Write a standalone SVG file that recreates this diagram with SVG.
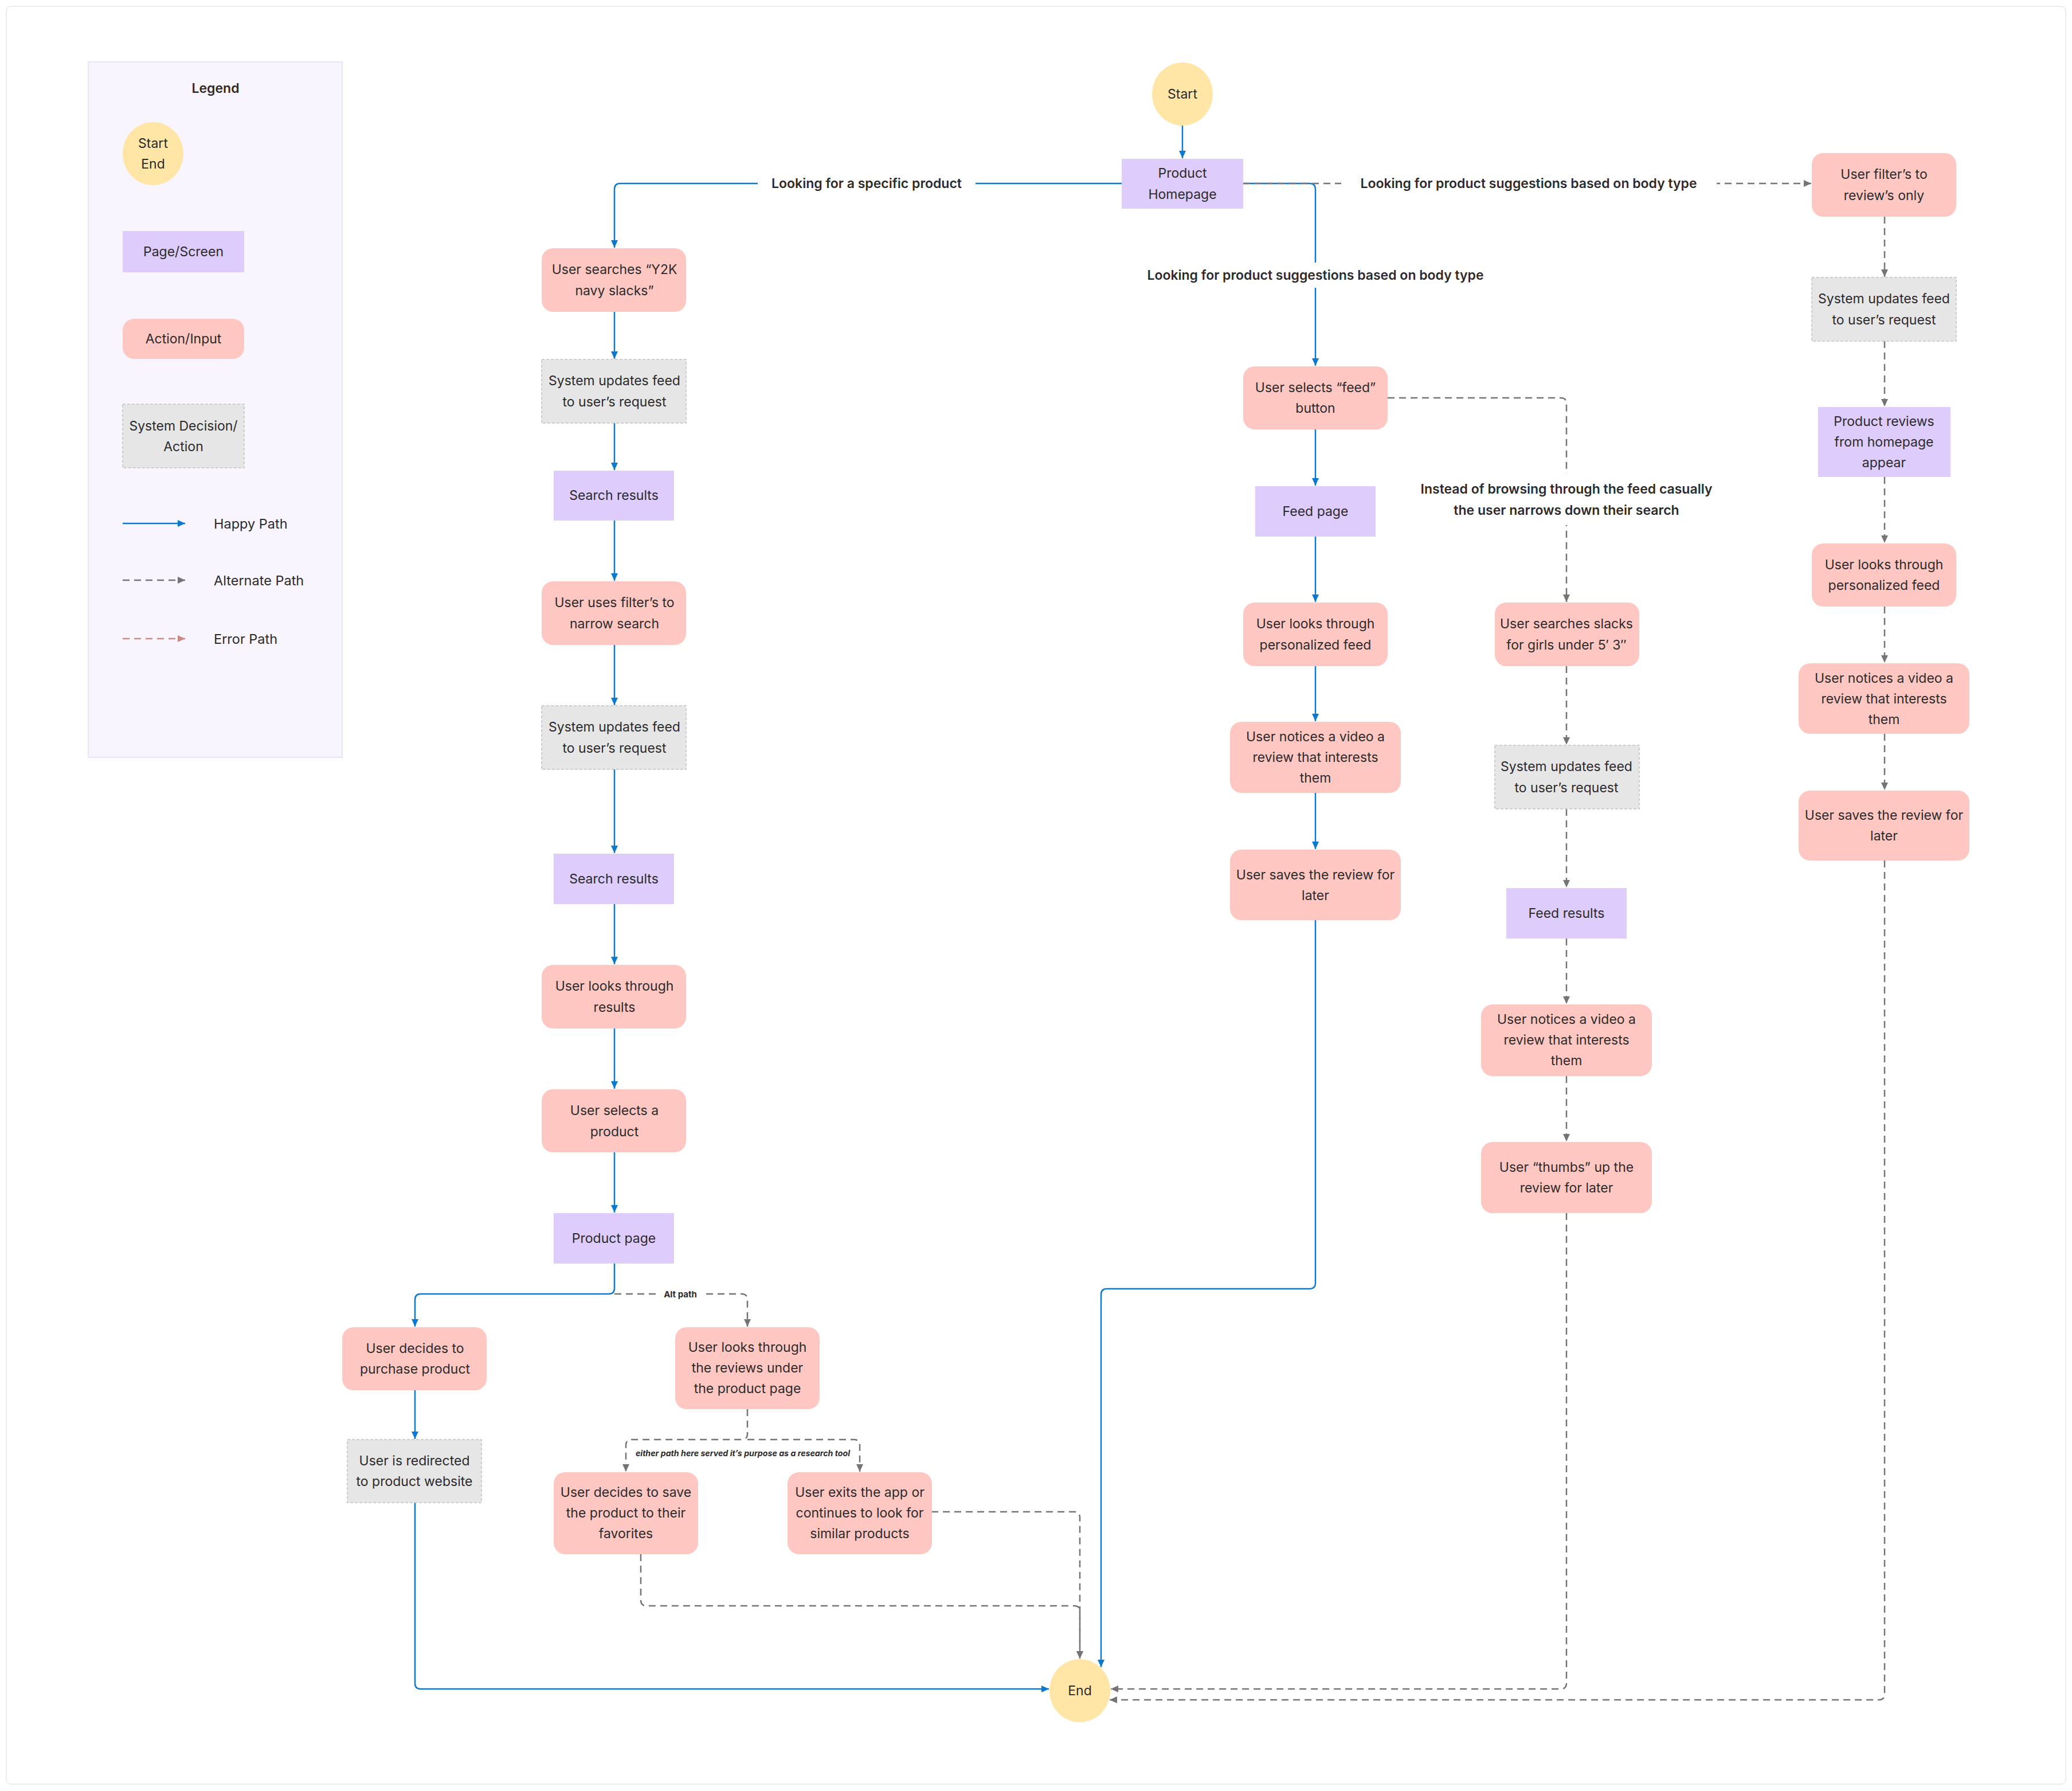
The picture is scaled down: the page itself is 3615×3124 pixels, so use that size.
<svg xmlns="http://www.w3.org/2000/svg" width="3615" height="3124" viewBox="0 0 3615 3124">
<defs>
<style>
.act{fill:#FFC7C2;}
.sys{fill:#E6E6E6;stroke:#C2C2C2;stroke-width:1.5;stroke-dasharray:5 3;}
.page{fill:#DDCCFC;}
.term{fill:#FFE6A6;}
.t{font-family:Inter,"Liberation Sans",sans-serif;font-size:23px;fill:#2C2A2B;text-anchor:middle;dominant-baseline:central;}
.lb{font-family:Inter,"Liberation Sans",sans-serif;font-size:23px;font-weight:600;fill:#2C2A2B;text-anchor:middle;dominant-baseline:central;}
.ll{font-family:Inter,"Liberation Sans",sans-serif;font-size:23.5px;fill:#2C2A2B;dominant-baseline:central;}
.happy{stroke:#0B79D0;stroke-width:2.5;fill:none;marker-end:url(#ab);}
.alt{stroke:#767374;stroke-width:2.5;stroke-dasharray:12 8;fill:none;marker-end:url(#ag);}
.err{stroke:#C98A80;stroke-width:2.5;stroke-dasharray:12 8;fill:none;marker-end:url(#ar);}
.bg{fill:#FFFFFF;}
</style>
<marker id="ab" markerUnits="userSpaceOnUse" markerWidth="14" markerHeight="14" refX="13" refY="7" orient="auto"><path d="M0,1 L13,7 L0,13 z" fill="#0B79D0"/></marker>
<marker id="ag" markerUnits="userSpaceOnUse" markerWidth="14" markerHeight="14" refX="13" refY="7" orient="auto"><path d="M0,1 L13,7 L0,13 z" fill="#767374"/></marker>
<marker id="ar" markerUnits="userSpaceOnUse" markerWidth="14" markerHeight="14" refX="13" refY="7" orient="auto"><path d="M0,1 L13,7 L0,13 z" fill="#C98A80"/></marker>
</defs>
<rect x="0" y="0" width="3615" height="3124" fill="#FFFFFF"/>
<rect x="11" y="11" width="3593" height="3101" rx="8" fill="#FFFFFF" stroke="#EDEDED" stroke-width="2"/>

<g id="legend">
<rect x="154" y="108" width="443" height="1213" fill="#F8F5FE" stroke="#E9E3FB" stroke-width="2"/>
<text class="lb" x="376" y="154">Legend</text>
<ellipse class="term" cx="267" cy="268" rx="53" ry="55"/>
<text class="t" x="267" y="250">Start</text>
<text class="t" x="267" y="286">End</text>
<rect class="page" x="214" y="403" width="212" height="72"/>
<text class="t" x="320" y="439">Page/Screen</text>
<rect class="act" x="214" y="556" width="212" height="70" rx="20"/>
<text class="t" x="320" y="591">Action/Input</text>
<rect class="sys" x="214" y="705" width="212" height="111"/>
<text class="t" x="320" y="743">System Decision/</text>
<text class="t" x="320" y="779">Action</text>
<line class="happy" x1="214" y1="913" x2="323" y2="913"/>
<text class="ll" x="373" y="913">Happy Path</text>
<line class="alt" x1="214" y1="1012" x2="323" y2="1012"/>
<text class="ll" x="373" y="1012">Alternate Path</text>
<line class="err" x1="214" y1="1114" x2="323" y2="1114"/>
<text class="ll" x="373" y="1114">Error Path</text>
</g>

<g id="connectors">
<path class="happy" d="M2063,219 V276"/>
<path class="happy" d="M1957,320 H1082 Q1072,320 1072,330 V432"/>
<path class="happy" d="M2169,320 H2285 Q2295,320 2295,330 V638"/>
<path class="alt" d="M2169,320 H3160"/>
<path class="happy" d="M1072,544 V626"/>
<path class="happy" d="M1072,738 V820"/>
<path class="happy" d="M1072,908 V1013"/>
<path class="happy" d="M1072,1125 V1230"/>
<path class="happy" d="M1072,1342 V1488"/>
<path class="happy" d="M1072,1577 V1682"/>
<path class="happy" d="M1072,1794 V1899"/>
<path class="happy" d="M1072,2010 V2115"/>
<path class="happy" d="M1072,2204 V2247 Q1072,2257 1062,2257 H734 Q724,2257 724,2267 V2314"/>
<path class="alt" d="M1072,2257 H1294 Q1304,2257 1304,2267 V2314"/>
<path class="happy" d="M724,2425 V2510"/>
<path class="happy" d="M724,2621 V2936 Q724,2946 734,2946 H1830"/>
<path class="alt" d="M1304,2458 V2501 Q1304,2511 1294,2511 H1102 Q1092,2511 1092,2521 V2567"/>
<path class="alt" d="M1304,2511 H1490 Q1500,2511 1500,2521 V2567"/>
<path class="alt" d="M1118,2711 V2791 Q1118,2801 1128,2801 H1874 Q1884,2801 1884,2811 V2893"/>
<path class="alt" d="M1625,2637 H1874 Q1884,2637 1884,2647 V2893"/>
<path class="happy" d="M2295,749 V847"/>
<path class="happy" d="M2295,936 V1050"/>
<path class="happy" d="M2295,1162 V1258"/>
<path class="happy" d="M2295,1383 V1481"/>
<path class="happy" d="M2295,1605 V2238 Q2295,2248 2285,2248 H1931 Q1921,2248 1921,2258 V2908"/>
<path class="alt" d="M2421,694 H2723 Q2733,694 2733,704 V1050"/>
<path class="alt" d="M2733,1162 V1299"/>
<path class="alt" d="M2733,1411 V1548"/>
<path class="alt" d="M2733,1637 V1751"/>
<path class="alt" d="M2733,1877 V1991"/>
<path class="alt" d="M2733,2116 V2936 Q2733,2946 2723,2946 H1938"/>
<path class="alt" d="M3288,378 V483"/>
<path class="alt" d="M3288,595 V709"/>
<path class="alt" d="M3288,832 V947"/>
<path class="alt" d="M3288,1058 V1156"/>
<path class="alt" d="M3288,1280 V1378"/>
<path class="alt" d="M3288,1501 V2955 Q3288,2965 3278,2965 H1936"/>
<rect class="bg" x="1322" y="302" width="380" height="36"/>
<text class="lb" x="1512" y="320">Looking for a specific product</text>
<rect class="bg" x="2340" y="302" width="655" height="36"/>
<text class="lb" x="2667" y="320">Looking for product suggestions based on body type</text>
<rect class="bg" x="1970" y="458" width="650" height="44"/>
<text class="lb" x="2295" y="480">Looking for product suggestions based on body type</text>
<rect class="bg" x="2455" y="826" width="556" height="90"/>
<text class="lb" x="2733" y="853">Instead of browsing through the feed casually</text>
<text class="lb" x="2733" y="890">the user narrows down their search</text>
<rect class="bg" x="1144" y="2244" width="86" height="26"/>
<text class="lb" x="1187" y="2257" style="font-size:15px;font-weight:700">Alt path</text>
<text class="lb" x="1296" y="2534" style="font-size:14.2px;font-weight:700;font-style:italic">either path here served it’s purpose as a research tool</text>
</g>

<g id="start"><ellipse class="term" cx="2063" cy="164" rx="53" ry="55"/><text class="t" x="2063" y="164">Start</text></g>
<g id="product-homepage"><rect class="page" x="1957" y="277" width="212" height="87"/><text class="t" x="2063" y="302">Product</text><text class="t" x="2063" y="339">Homepage</text></g>

<g id="search-y2k"><rect class="act" x="945" y="433" width="252" height="111" rx="20"/><text class="t" x="1072" y="470">User searches “Y2K</text><text class="t" x="1072" y="507">navy slacks”</text></g>
<g id="sys-1"><rect class="sys" x="945" y="627" width="252" height="111"/><text class="t" x="1072" y="664">System updates feed</text><text class="t" x="1072" y="701">to user’s request</text></g>
<g id="search-results-1"><rect class="page" x="966" y="821" width="210" height="87"/><text class="t" x="1071" y="864">Search results</text></g>
<g id="filters"><rect class="act" x="945" y="1014" width="252" height="111" rx="20"/><text class="t" x="1072" y="1051">User uses filter’s to</text><text class="t" x="1072" y="1088">narrow search</text></g>
<g id="sys-2"><rect class="sys" x="945" y="1231" width="252" height="111"/><text class="t" x="1072" y="1268">System updates feed</text><text class="t" x="1072" y="1305">to user’s request</text></g>
<g id="search-results-2"><rect class="page" x="966" y="1489" width="210" height="88"/><text class="t" x="1071" y="1533">Search results</text></g>
<g id="looks-results"><rect class="act" x="945" y="1683" width="252" height="111" rx="20"/><text class="t" x="1072" y="1720">User looks through</text><text class="t" x="1072" y="1757">results</text></g>
<g id="selects-product"><rect class="act" x="945" y="1900" width="252" height="110" rx="20"/><text class="t" x="1072" y="1937">User selects a</text><text class="t" x="1072" y="1974">product</text></g>
<g id="product-page"><rect class="page" x="966" y="2116" width="210" height="88"/><text class="t" x="1071" y="2160">Product page</text></g>
<g id="purchase"><rect class="act" x="597" y="2315" width="252" height="110" rx="20"/><text class="t" x="724" y="2352">User decides to</text><text class="t" x="724" y="2388">purchase product</text></g>
<g id="redirected"><rect class="sys" x="606" y="2511" width="234" height="110"/><text class="t" x="723" y="2548">User is redirected</text><text class="t" x="723" y="2584">to product website</text></g>
<g id="reviews-under"><rect class="act" x="1178" y="2315" width="252" height="143" rx="20"/><text class="t" x="1304" y="2350">User looks through</text><text class="t" x="1304" y="2386">the reviews under</text><text class="t" x="1304" y="2422">the product page</text></g>
<g id="save-favorites"><rect class="act" x="966" y="2568" width="252" height="143" rx="20"/><text class="t" x="1092" y="2603">User decides to save</text><text class="t" x="1092" y="2639">the product to their</text><text class="t" x="1092" y="2675">favorites</text></g>
<g id="exits-app"><rect class="act" x="1374" y="2568" width="252" height="143" rx="20"/><text class="t" x="1500" y="2603">User exits the app or</text><text class="t" x="1500" y="2639">continues to look for</text><text class="t" x="1500" y="2675">similar products</text></g>
<g id="end"><ellipse class="term" cx="1884" cy="2949" rx="53" ry="55"/><text class="t" x="1884" y="2949">End</text></g>

<g id="feed-button"><rect class="act" x="2169" y="639" width="252" height="110" rx="20"/><text class="t" x="2295" y="676">User selects “feed”</text><text class="t" x="2295" y="712">button</text></g>
<g id="feed-page"><rect class="page" x="2190" y="848" width="210" height="88"/><text class="t" x="2295" y="892">Feed page</text></g>
<g id="personalized-1"><rect class="act" x="2169" y="1051" width="252" height="111" rx="20"/><text class="t" x="2295" y="1088">User looks through</text><text class="t" x="2295" y="1125">personalized feed</text></g>
<g id="notices-1"><rect class="act" x="2146" y="1259" width="298" height="124" rx="20"/><text class="t" x="2295" y="1285">User notices a video a</text><text class="t" x="2295" y="1321">review that interests</text><text class="t" x="2295" y="1357">them</text></g>
<g id="saves-1"><rect class="act" x="2146" y="1482" width="298" height="123" rx="20"/><text class="t" x="2295" y="1526">User saves the review for</text><text class="t" x="2295" y="1562">later</text></g>

<g id="search-slacks"><rect class="act" x="2608" y="1051" width="252" height="111" rx="20"/><text class="t" x="2733" y="1088">User searches slacks</text><text class="t" x="2733" y="1125">for girls under 5′ 3″</text></g>
<g id="sys-3"><rect class="sys" x="2608" y="1300" width="252" height="111"/><text class="t" x="2733" y="1337">System updates feed</text><text class="t" x="2733" y="1374">to user’s request</text></g>
<g id="feed-results"><rect class="page" x="2628" y="1549" width="210" height="88"/><text class="t" x="2733" y="1593">Feed results</text></g>
<g id="notices-2"><rect class="act" x="2584" y="1752" width="298" height="125" rx="20"/><text class="t" x="2733" y="1778">User notices a video a</text><text class="t" x="2733" y="1814">review that interests</text><text class="t" x="2733" y="1850">them</text></g>
<g id="thumbs-up"><rect class="act" x="2584" y="1992" width="298" height="124" rx="20"/><text class="t" x="2733" y="2036">User “thumbs” up the</text><text class="t" x="2733" y="2072">review for later</text></g>

<g id="filter-reviews"><rect class="act" x="3161" y="267" width="252" height="111" rx="20"/><text class="t" x="3287" y="304">User filter’s to</text><text class="t" x="3287" y="341">review’s only</text></g>
<g id="sys-4"><rect class="sys" x="3161" y="484" width="252" height="111"/><text class="t" x="3287" y="521">System updates feed</text><text class="t" x="3287" y="558">to user’s request</text></g>
<g id="reviews-appear"><rect class="page" x="3172" y="710" width="231" height="122"/><text class="t" x="3287" y="735">Product reviews</text><text class="t" x="3287" y="771">from homepage</text><text class="t" x="3287" y="807">appear</text></g>
<g id="personalized-2"><rect class="act" x="3161" y="948" width="252" height="110" rx="20"/><text class="t" x="3287" y="985">User looks through</text><text class="t" x="3287" y="1021">personalized feed</text></g>
<g id="notices-3"><rect class="act" x="3138" y="1157" width="298" height="123" rx="20"/><text class="t" x="3287" y="1183">User notices a video a</text><text class="t" x="3287" y="1219">review that interests</text><text class="t" x="3287" y="1255">them</text></g>
<g id="saves-2"><rect class="act" x="3138" y="1379" width="298" height="122" rx="20"/><text class="t" x="3287" y="1422">User saves the review for</text><text class="t" x="3287" y="1458">later</text></g>
</svg>
